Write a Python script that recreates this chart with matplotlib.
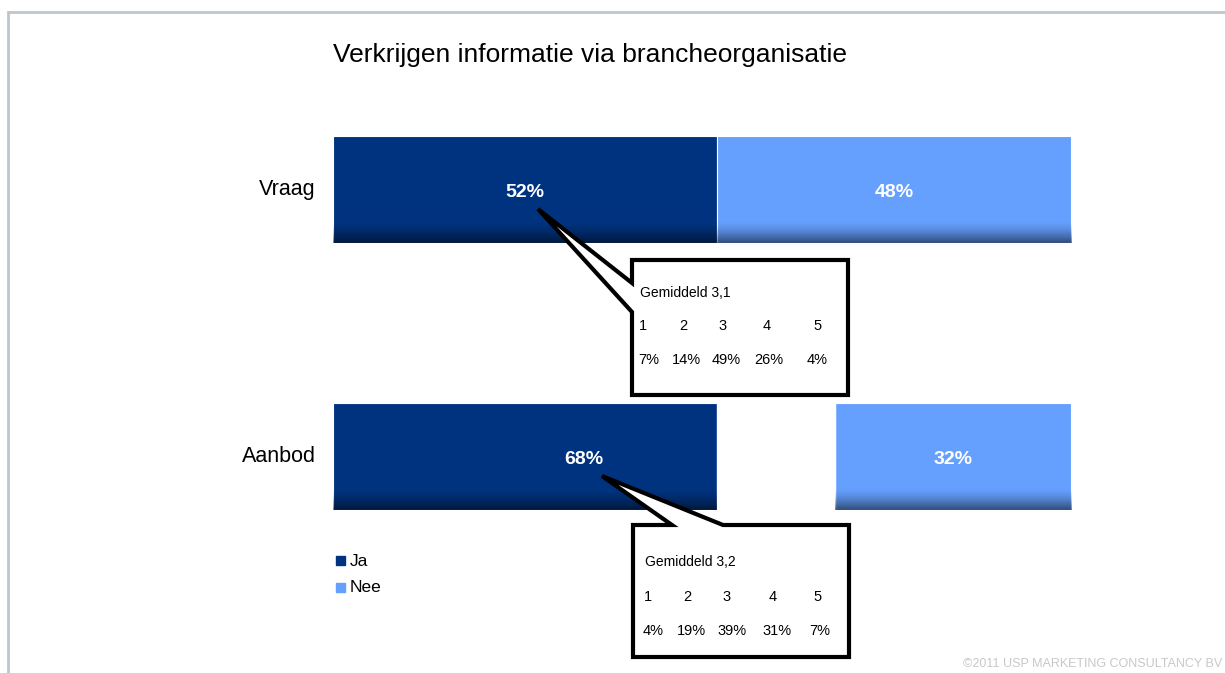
import numpy as np
import matplotlib.pyplot as plt
from matplotlib.patches import Polygon, Rectangle

plt.rcParams['font.family'] = ['Liberation Sans', 'DejaVu Sans']

title = 'Verkrijgen informatie via brancheorganisatie'
categories = ['Vraag', 'Aanbod']
ja = [52, 68]
nee = [48, 32]
series_names = ['Ja', 'Nee']
scores = ['1', '2', '3', '4', '5']
gemiddeld = ['3,1', '3,2']
score_pct = [['7%', '14%', '49%', '26%', '4%'],
             ['4%', '19%', '39%', '31%', '7%']]
footer = '\u00a92011 USP MARKETING CONSULTANCY BV'

DARK = '#00337F'
LIGHT = '#66A0FF'
W, H = 1225, 673

fig = plt.figure(figsize=(W / 100, H / 100), dpi=100)

# bar axes, placed in pixel terms of the slide
ax = fig.add_axes([333 / W, 1 - 510 / H, (1071 - 333) / W, (510 - 136) / H])
ypos = np.arange(len(categories))
bh = 0.4
ax.barh(ypos, ja, height=bh, color=DARK, edgecolor='white', linewidth=0.8)
ax.barh(ypos, nee, left=ja, height=bh, color=LIGHT, edgecolor='white', linewidth=0.8)
# white gap in the Aanbod row (as on the slide)
ax.add_patch(Rectangle((ja[0], ypos[1] - bh / 2 - 0.01), ja[1] - ja[0], bh + 0.02,
                       color='white', zorder=3))

# darker band at the bottom of each bar
grad = np.zeros((50, 1, 4))
grad[:, 0, 3] = np.clip((np.linspace(0, 1, 50) - 0.8) / 0.2, 0, 1) ** 1.5 * 0.5
for i in range(len(categories)):
    for left, width in [(0, ja[i]), (ja[i], nee[i])]:
        if i == 1 and left == 0:
            width = ja[0]
        ax.imshow(grad, extent=(left, left + width, i + bh / 2, i - bh / 2),
                  aspect='auto', zorder=4, interpolation='bilinear')

for i in range(len(categories)):
    ax.text(ja[i] / 2, ypos[i] + 0.012, f'{ja[i]}%', color='white', fontsize=14,
            fontweight='bold', ha='center', va='center', zorder=5)
    ax.text(ja[i] + nee[i] / 2, ypos[i] + 0.012, f'{nee[i]}%', color='white', fontsize=14,
            fontweight='bold', ha='center', va='center', zorder=5)
    ax.text(-2.3, ypos[i], categories[i], fontsize=15.5, ha='right', va='center')

ax.set_xlim(0, 100)
ax.set_ylim(1.2, -0.2)
ax.axis('off')

# overlay in slide pixels for frame, title, legend and callouts
ov = fig.add_axes([0, 0, 1, 1], zorder=10)
ov.set_xlim(0, W)
ov.set_ylim(H, 0)
ov.axis('off')
ov.patch.set_alpha(0)

ov.plot([8, 8, W], [H, 12, 12], color='#BCC6CC', lw=2, solid_joinstyle='miter')
ov.text(333, 55, title, fontsize=19, ha='left', va='center')

for k, (name, col) in enumerate(zip(series_names, [DARK, LIGHT])):
    yy = 561 + k * 27
    ov.add_patch(Rectangle((336, yy - 5), 9, 9, color=col))
    ov.text(350, yy, name, fontsize=12.5, ha='left', va='center')

# callouts
box1 = [(538, 209), (632, 283), (632, 260), (848, 260), (848, 395),
        (632, 395), (632, 312)]
box2 = [(602, 476), (672, 525), (633, 525), (633, 657), (849, 657),
        (849, 525), (723, 525)]
for pts in [box1, box2]:
    ov.add_patch(Polygon(pts, closed=True, facecolor='white', edgecolor='black',
                         lw=3, joinstyle='miter'))

anchors = [(640, 293, 326, 360, [643, 683, 723, 767, 818], [649, 686, 726, 769, 817]),
           (645, 562, 597, 631, [648, 687, 727, 773, 818], [653, 691, 732, 777, 820])]
for c, (gx, gy, ny, py, nx, px) in enumerate(anchors):
    ov.text(gx, gy, 'Gemiddeld ' + gemiddeld[c], fontsize=10, ha='left', va='center')
    for s, x in zip(scores, nx):
        ov.text(x, ny, s, fontsize=10.5, ha='center', va='center')
    for p, x in zip(score_pct[c], px):
        ov.text(x, py, p, fontsize=10.5, ha='center', va='center')

ov.text(1222, 664, footer, fontsize=9, color='#C8C8C8', ha='right', va='center')

fig.savefig('out.png', dpi=100)
